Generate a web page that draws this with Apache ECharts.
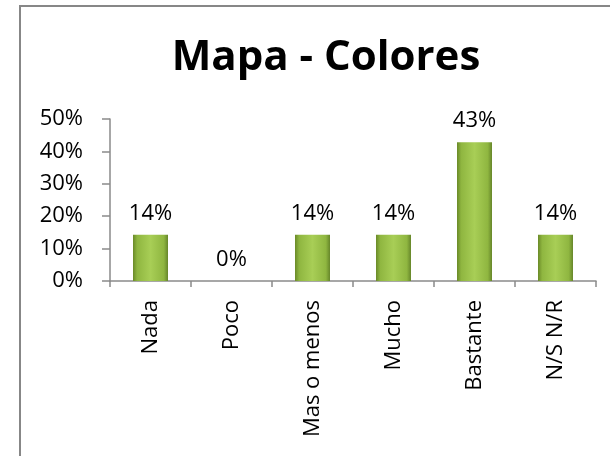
<!DOCTYPE html>
<html>
<head>
<meta charset="utf-8">
<script src="https://cdn.jsdelivr.net/npm/echarts@6/dist/echarts.min.js"></script>
<style>
html,body{margin:0;padding:0;background:#fff;}
#frame{position:absolute;left:19px;top:5px;width:700px;height:600px;border-left:2px solid #878787;border-top:2px solid #878787;}
#chart{position:absolute;left:0;top:0;width:610px;height:456px;}
</style>
</head>
<body>
<div id="frame"></div>
<div id="chart"></div>
<script>
const titleText = 'Mapa - Colores';
const categories = ['Nada', 'Poco', 'Mas o menos', 'Mucho', 'Bastante', 'N/S N/R'];
const values = [14.29, 0, 14.29, 14.29, 42.86, 14.29];
const yMin = 0, yMax = 50, yStep = 10;

const chart = echarts.init(document.getElementById('chart'));
const font = '"Open Sans", sans-serif';
chart.setOption({
  animation: false,
  backgroundColor: 'transparent',
  graphic: [{
    type: 'text', x: 326, y: 58,
    style: { text: titleText, font: 'bold 42px ' + font, fill: '#000', textAlign: 'center', textVerticalAlign: 'middle' }
  }],
  grid: { left: 110, right: 14, top: 119, bottom: 175 },
  xAxis: {
    type: 'category', data: categories,
    axisLine: { lineStyle: { color: '#8a8a8a', width: 1.5 } },
    axisTick: { show: true, length: 6, lineStyle: { color: '#8a8a8a', width: 1.5 } },
    axisLabel: { rotate: 90, margin: 19, color: '#000', fontSize: 22, fontFamily: font, interval: 0 }
  },
  yAxis: {
    type: 'value', min: yMin, max: yMax, interval: yStep,
    splitLine: { show: false },
    axisLine: { show: true, lineStyle: { color: '#8a8a8a', width: 1.5 } },
    axisTick: { show: true, length: 8, lineStyle: { color: '#8a8a8a', width: 1.5 } },
    axisLabel: { formatter: '{value}%', margin: 27, color: '#000', fontSize: 22, fontFamily: font }
  },
  series: [{
    type: 'bar', data: values, barWidth: 35,
    itemStyle: {
      color: new echarts.graphic.LinearGradient(0, 0, 1, 0, [
        { offset: 0, color: '#6a8a28' },
        { offset: 0.12, color: '#8fb640' },
        { offset: 0.5, color: '#a8ce56' },
        { offset: 0.88, color: '#8fb640' },
        { offset: 1, color: '#66862a' }
      ])
    },
    label: {
      show: true, position: 'top', distance: 10, color: '#000', fontSize: 22, fontFamily: font,
      formatter: p => Math.round(p.value) + '%'
    }
  }]
});
</script>
</body>
</html>
